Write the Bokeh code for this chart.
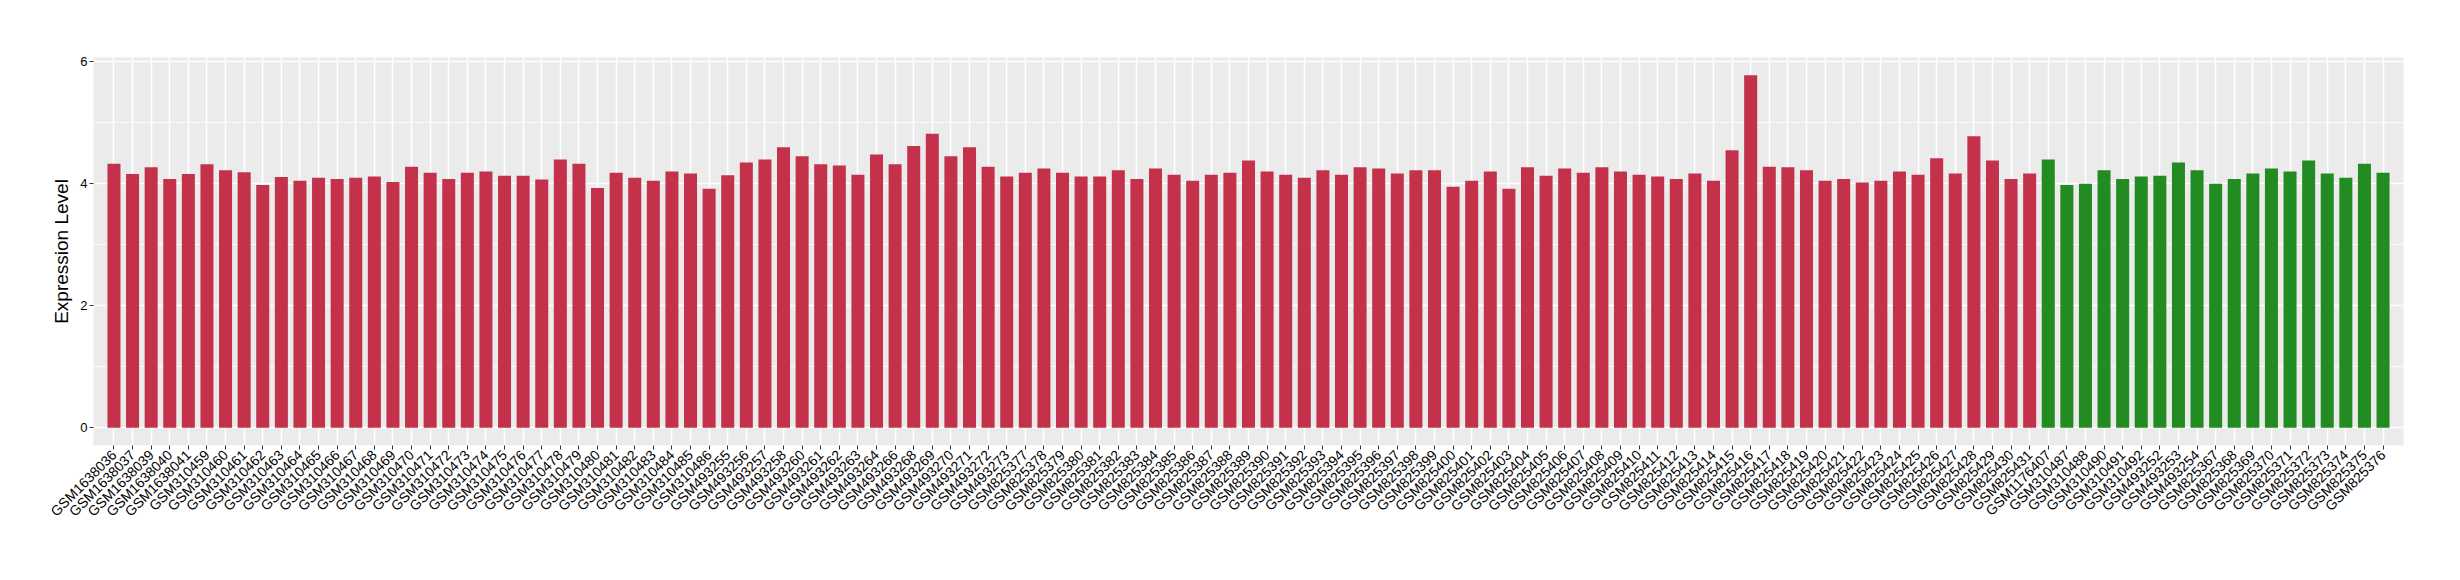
import math
from bokeh.plotting import figure
from bokeh.models import FactorRange, Range1d, SingleIntervalTicker, ColumnDataSource
from bokeh.transform import factor_cmap
from bokeh.embed import file_html
from bokeh.resources import INLINE

samples = [
    "GSM1638036", "GSM1638037", "GSM1638039", "GSM1638040", "GSM1638041",
    "GSM310459", "GSM310460", "GSM310461", "GSM310462", "GSM310463", "GSM310464",
    "GSM310465", "GSM310466", "GSM310467", "GSM310468", "GSM310469", "GSM310470",
    "GSM310471", "GSM310472", "GSM310473", "GSM310474", "GSM310475", "GSM310476",
    "GSM310477", "GSM310478", "GSM310479", "GSM310480", "GSM310481", "GSM310482",
    "GSM310483", "GSM310484", "GSM310485", "GSM310486",
    "GSM493255", "GSM493256", "GSM493257", "GSM493258", "GSM493260", "GSM493261",
    "GSM493262", "GSM493263", "GSM493264", "GSM493266", "GSM493268", "GSM493269",
    "GSM493270", "GSM493271", "GSM493272", "GSM493273",
    "GSM825377", "GSM825378", "GSM825379", "GSM825380", "GSM825381", "GSM825382",
    "GSM825383", "GSM825384", "GSM825385", "GSM825386", "GSM825387", "GSM825388",
    "GSM825389", "GSM825390", "GSM825391", "GSM825392", "GSM825393", "GSM825394",
    "GSM825395", "GSM825396", "GSM825397", "GSM825398", "GSM825399", "GSM825400",
    "GSM825401", "GSM825402", "GSM825403", "GSM825404", "GSM825405", "GSM825406",
    "GSM825407", "GSM825408", "GSM825409", "GSM825410", "GSM825411", "GSM825412",
    "GSM825413", "GSM825414", "GSM825415", "GSM825416", "GSM825417", "GSM825418",
    "GSM825419", "GSM825420", "GSM825421", "GSM825422", "GSM825423", "GSM825424",
    "GSM825425", "GSM825426", "GSM825427", "GSM825428", "GSM825429", "GSM825430",
    "GSM825431",
    "GSM1176407", "GSM310487", "GSM310488", "GSM310490", "GSM310491", "GSM310492",
    "GSM493252", "GSM493253", "GSM493254",
    "GSM825367", "GSM825368", "GSM825369", "GSM825370", "GSM825371", "GSM825372",
    "GSM825373", "GSM825374", "GSM825375", "GSM825376",
]

values_group1 = [
    4.33, 4.16, 4.27, 4.08, 4.16, 4.32, 4.22, 4.19, 3.98, 4.11,
    4.05, 4.10, 4.08, 4.10, 4.12, 4.03, 4.28, 4.18, 4.08, 4.18,
    4.20, 4.13, 4.13, 4.07, 4.40, 4.33, 3.93, 4.18, 4.10, 4.05,
    4.20, 4.17, 3.92, 4.14, 4.35, 4.40, 4.60, 4.45, 4.32, 4.30,
    4.15, 4.48, 4.32, 4.62, 4.82, 4.45, 4.60, 4.28, 4.12, 4.18,
    4.25, 4.18, 4.12, 4.12, 4.22, 4.08, 4.25, 4.15, 4.05, 4.15,
    4.18, 4.38, 4.20, 4.15, 4.10, 4.22, 4.15, 4.27, 4.25, 4.17,
    4.22, 4.22, 3.95, 4.05, 4.20, 3.92, 4.27, 4.13, 4.25, 4.18,
    4.27, 4.20, 4.15, 4.12, 4.08, 4.17, 4.05, 4.55, 5.78, 4.28,
    4.27, 4.22, 4.05, 4.08, 4.02, 4.05, 4.20, 4.15, 4.42, 4.17,
    4.78, 4.38, 4.08, 4.17,
]
values_group2 = [
    4.40, 3.98, 4.00, 4.22, 4.08, 4.12, 4.13, 4.35, 4.22, 4.00,
    4.08, 4.17, 4.25, 4.20, 4.38, 4.17, 4.10, 4.33, 4.18,
]

group_names = ["group1", "group2"]
group_colors = ["#C3324A", "#228B22"]
y_ticks_interval = 2

values = values_group1 + values_group2
groups = [group_names[0]] * len(values_group1) + [group_names[1]] * len(values_group2)

src = ColumnDataSource(dict(sample=samples, value=values, group=groups))

FONT = "Liberation Sans"

p = figure(
    x_range=FactorRange(factors=samples, range_padding=0.6, range_padding_units="absolute"),
    y_range=Range1d(-0.29, 6.07),
    width=2460, height=580,
    output_backend="svg", toolbar_location=None,
    background_fill_color="#EBEBEB", border_fill_color="white",
    min_border_left=93, min_border_right=57, min_border_top=57, min_border_bottom=135,
    outline_line_color=None,
)

p.vbar(x="sample", top="value", bottom=0, width=0.7, source=src,
       fill_color=factor_cmap("group", group_colors, group_names), line_color=None)

p.yaxis.ticker = SingleIntervalTicker(interval=y_ticks_interval, num_minor_ticks=2)
p.yaxis.minor_tick_line_color = None
p.ygrid.grid_line_color = "white"
p.ygrid.grid_line_width = 1.6
p.ygrid.minor_grid_line_color = "white"
p.ygrid.minor_grid_line_width = 0.8
p.xgrid.grid_line_color = "white"
p.xgrid.grid_line_width = 1.6

p.axis.axis_line_color = None
p.axis.major_tick_line_color = "#333333"
p.axis.major_tick_out = 4
p.axis.major_tick_in = 0
p.axis.major_label_text_font = FONT
p.axis.major_label_text_color = "#000000"
p.xaxis.major_label_text_font_size = "14px"
p.yaxis.major_label_text_font_size = "13px"
p.xaxis.major_label_orientation = math.pi / 4
p.xaxis.major_label_standoff = 3
p.yaxis.major_label_standoff = 2

p.yaxis.axis_label = "Expression Level"
p.yaxis.axis_label_text_font = FONT
p.yaxis.axis_label_text_font_size = "19px"
p.yaxis.axis_label_text_font_style = "normal"
p.yaxis.axis_label_text_color = "black"
p.yaxis.axis_label_standoff = 5

open("out.html", "w").write(file_html(p, INLINE))
